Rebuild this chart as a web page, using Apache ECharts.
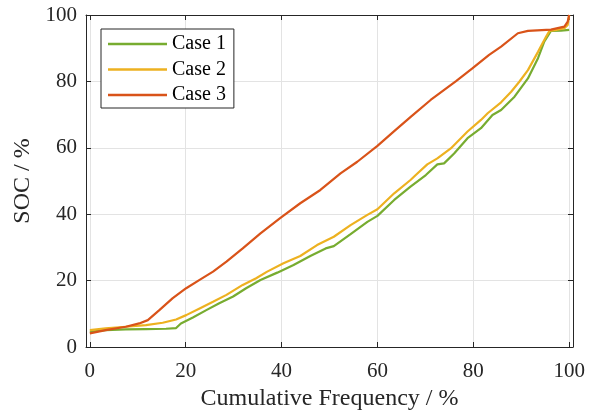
<!DOCTYPE html>
<html>
<head>
<meta charset="utf-8">
<script src="https://cdn.jsdelivr.net/npm/echarts@6/dist/echarts.min.js"></script>
<style>
  html, body { margin: 0; padding: 0; background: #fff; }
  #chart { width: 596px; height: 411px; }
</style>
</head>
<body>
<div id="chart"></div>
<script>
// 曲线数据
const case1X = [0, 3.3, 7.5, 11.7, 15.9, 18.0, 19.0, 21.5, 24.3, 27.0, 29.9, 32.6, 35.6, 39.1, 42.5, 46.0, 49.2, 50.9, 54.4, 57.9, 60.0, 63.5, 66.9, 70.1, 72.5, 73.9, 76.0, 78.8, 81.6, 84.0, 85.8, 88.6, 91.4, 93.5, 94.8, 96.2, 98.3, 100]
const case1Y = [4.6, 5.1, 5.3, 5.4, 5.5, 5.7, 7.1, 8.9, 11.1, 13.2, 15.2, 17.7, 20.2, 22.4, 24.7, 27.4, 29.7, 30.4, 34.0, 37.7, 39.5, 44.3, 48.3, 51.8, 55.0, 55.3, 58.3, 62.9, 65.9, 69.9, 71.4, 75.4, 80.9, 87.0, 92.0, 95.2, 95.3, 95.5]

const case2X = [0, 3.3, 7.5, 11.7, 15.2, 18.0, 20.1, 22.9, 25.7, 28.5, 31.9, 34.7, 37.0, 40.4, 43.9, 47.4, 50.9, 54.4, 57.9, 60.0, 63.5, 66.9, 68.0, 70.4, 72.5, 75.3, 78.8, 81.6, 83.0, 85.8, 87.9, 89.6, 91.4, 93.5, 95.2, 95.9, 97.3, 99.0, 99.7, 100]
const case2Y = [5.1, 5.6, 6.1, 6.6, 7.3, 8.3, 9.6, 11.6, 13.6, 15.7, 18.7, 20.7, 22.7, 25.2, 27.4, 30.7, 33.2, 36.7, 39.8, 41.5, 46.3, 50.3, 51.8, 55.0, 56.8, 59.8, 64.9, 68.4, 70.4, 73.7, 76.9, 79.9, 83.4, 88.9, 93.5, 95.2, 95.5, 96.0, 97.0, 100]

const case3X = [0, 3.3, 7.5, 10.3, 12.1, 14.5, 17.3, 20.1, 22.9, 25.7, 28.5, 31.9, 35.6, 39.7, 43.9, 48.1, 52.3, 55.8, 60.0, 63.5, 67.0, 71.1, 76.4, 79.8, 83.3, 85.8, 89.3, 91.4, 96.2, 99.0, 99.7, 100]
const case3Y = [4.1, 5.1, 6.1, 7.1, 8.1, 11.1, 14.7, 17.7, 20.2, 22.7, 25.7, 29.7, 34.2, 38.8, 43.3, 47.3, 52.3, 55.8, 60.6, 65.0, 69.4, 74.4, 80.1, 83.9, 88.0, 90.5, 94.5, 95.2, 95.6, 96.5, 98.0, 100]

const seriesNames = ['Case 1', 'Case 2', 'Case 3']
const seriesColors = ['#77ac30', '#edb120', '#d95319']

const font = "'Liberation Serif', 'Times New Roman', serif"
const axisColor = '#262626'
const gridColor = '#e3e3e3'

function pairs(xs, ys) {
  return xs.map((x, i) => [x, ys[i]])
}

const chart = echarts.init(document.getElementById('chart'))

const commonAxis = {
  axisLine: { show: true, onZero: false, lineStyle: { color: axisColor, width: 1 } },
  axisTick: { show: true, inside: true, length: 5, lineStyle: { color: axisColor } },
}

chart.setOption({
  animation: false,
  textStyle: { fontFamily: font },
  grid: { left: 86, right: 23, top: 15, bottom: 64, containLabel: false, outerBoundsMode: 'none' },
  legend: {
    data: seriesNames,
    orient: 'vertical',
    left: 101,
    top: 29,
    padding: [5, 8, 3, 7],
    icon: 'rect',
    itemWidth: 59,
    itemHeight: 2.5,
    itemGap: 5.5,
    backgroundColor: '#fff',
    borderColor: axisColor,
    borderWidth: 1,
    textStyle: { fontFamily: font, fontSize: 20, color: '#000', lineHeight: 20 },
  },
  xAxis: [
    {
      type: 'value',
      min: -0.8,
      max: 100.8,
      minInterval: 20,
      maxInterval: 20,
      name: 'Cumulative Frequency / %',
      nameLocation: 'middle',
      nameGap: 40,
      nameTextStyle: { fontFamily: font, fontSize: 24, color: axisColor },
      ...commonAxis,
      axisLabel: {
        fontFamily: font, fontSize: 21, color: axisColor, margin: 14,
        showMinLabel: false, showMaxLabel: false,
      },
      splitLine: { show: true, lineStyle: { color: gridColor } },
    },
    {
      type: 'value',
      position: 'top',
      min: -0.8,
      max: 100.8,
      minInterval: 20,
      maxInterval: 20,
      ...commonAxis,
      axisLabel: { show: false },
      splitLine: { show: false },
    },
  ],
  yAxis: [
    {
      type: 'value',
      min: 0,
      max: 100,
      interval: 20,
      name: 'SOC / %',
      nameLocation: 'middle',
      nameGap: 47,
      nameTextStyle: { fontFamily: font, fontSize: 24, color: axisColor },
      ...commonAxis,
      axisLabel: { fontFamily: font, fontSize: 21, color: axisColor, margin: 9 },
      splitLine: { show: true, lineStyle: { color: gridColor } },
    },
    {
      type: 'value',
      position: 'right',
      min: 0,
      max: 100,
      interval: 20,
      ...commonAxis,
      axisLabel: { show: false },
      splitLine: { show: false },
    },
  ],
  series: [
    pairs(case1X, case1Y),
    pairs(case2X, case2Y),
    pairs(case3X, case3Y),
  ].map((data, i) => ({
    name: seriesNames[i],
    type: 'line',
    data,
    symbol: 'none',
    color: seriesColors[i],
    lineStyle: { width: 2.2, color: seriesColors[i] },
  })),
})
</script>
</body>
</html>
